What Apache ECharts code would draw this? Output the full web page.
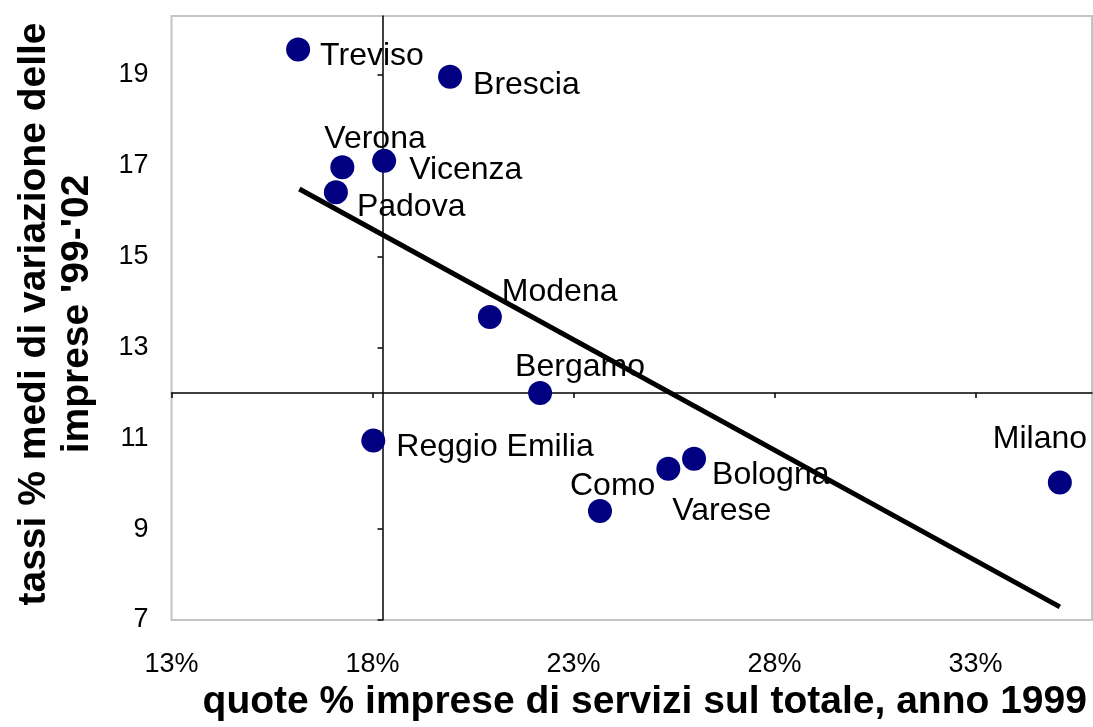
<!DOCTYPE html>
<html>
<head>
<meta charset="utf-8">
<script src="https://cdn.jsdelivr.net/npm/echarts@6/dist/echarts.min.js"></script>
<style>
  html, body { margin: 0; padding: 0; background: #fff; }
  #chart { width: 1093px; height: 727px; }
</style>
</head>
<body>
<div id="chart"></div>
<script>
// dati
const cities = ['Treviso', 'Brescia', 'Verona', 'Vicenza', 'Padova', 'Modena', 'Bergamo', 'Reggio Emilia', 'Como', 'Varese', 'Bologna', 'Milano']
const quotaServizi = [16.15, 19.93, 17.25, 18.29, 17.09, 20.92, 22.17, 18.02, 23.66, 25.36, 26.0, 35.1]
const tassoVariazione = [19.56, 18.96, 16.97, 17.11, 16.42, 13.67, 12.0, 10.95, 9.4, 10.33, 10.55, 10.03]
const trendX = [16.18, 35.1]
const trendY = [16.49, 7.29]
const xTicks = [13, 18, 23, 28, 33]
const yTicks = [7, 9, 11, 13, 15, 17, 19]

const X_MIN = 13
const X_MAX = 35.9
const Y_MIN = 7
const Y_MAX = 20.3
const X_CROSS = 18.25 // dove l'asse verticale incrocia
const Y_CROSS = 12

// spostamento etichette rispetto al centro del punto
const labelShift = {
  Treviso: [22, 7],
  Brescia: [23, 8],
  Verona: [-18, -28],
  Vicenza: [25, 9],
  Padova: [21, 15],
  Modena: [12, -25],
  Bergamo: [-25, -26],
  'Reggio Emilia': [23, 7],
  Como: [-30, -25],
  Varese: [4, 42],
  Bologna: [18, 16],
  Milano: [-67, -43]
}

const font = '"Liberation Sans", Arial, sans-serif'

const points = cities.map((name, i) => ({
  name,
  value: [quotaServizi[i], tassoVariazione[i]],
  label: { offset: labelShift[name] }
}))

const trend = trendX.map((x, i) => [x, trendY[i]])

const crossLine = { show: true, onZero: true, lineStyle: { color: '#000', width: 1.5 } }
const noSplit = { show: false }

const option = {
  animation: false,
  backgroundColor: '#fff',
  grid: {
    left: 171.5,
    right: 1,
    top: 16,
    bottom: 106,
    show: true,
    borderColor: '#c4c4c4',
    borderWidth: 2,
    containLabel: false
  },
  xAxis: [
    {
      type: 'value', position: 'bottom', min: X_MIN, max: X_MAX,
      axisLine: { show: false, onZero: false },
      axisTick: { show: false },
      splitLine: noSplit,
      axisLabel: {
        customValues: xTicks, formatter: '{value}%', margin: 31,
        fontFamily: font, fontSize: 27, color: '#000'
      },
      name: 'quote % imprese di servizi sul totale, anno 1999',
      nameLocation: 'middle',
      nameGap: 63,
      nameTextStyle: { fontFamily: font, fontSize: 39, fontWeight: 'bold', color: '#000', padding: [0, 0, 0, 26] }
    },
    {
      // asse orizzontale che passa per y = 12
      type: 'value', position: 'bottom', min: X_MIN, max: X_MAX,
      axisLine: Object.assign({ onZeroAxisIndex: 1 }, crossLine),
      axisTick: { show: true, customValues: xTicks, length: 5, lineStyle: { color: '#000', width: 1.5 } },
      axisLabel: { show: false },
      splitLine: noSplit
    },
    {
      type: 'value', position: 'top', show: false,
      min: X_MIN - X_CROSS, max: X_MAX - X_CROSS,
      axisLine: { onZero: false },
      splitLine: noSplit
    }
  ],
  yAxis: [
    {
      type: 'value', position: 'left', min: Y_MIN, max: Y_MAX,
      axisLine: { show: false, onZero: false },
      axisTick: { show: false },
      splitLine: noSplit,
      axisLabel: {
        customValues: yTicks, margin: 23,
        fontFamily: font, fontSize: 27, color: '#000'
      },
      name: "tassi % medi di variazione delle\nimprese '99-'02",
      nameLocation: 'middle',
      nameRotate: 90,
      nameGap: 73,
      nameTextStyle: { fontFamily: font, fontSize: 39, fontWeight: 'bold', color: '#000', lineHeight: 43, padding: [0, 0, 0, 8] }
    },
    {
      type: 'value', position: 'right', show: false,
      min: Y_MIN - Y_CROSS, max: Y_MAX - Y_CROSS,
      axisLine: { onZero: false },
      splitLine: noSplit
    },
    {
      // asse verticale che passa per x = 18,25%
      type: 'value', position: 'left', min: Y_MIN, max: Y_MAX,
      axisLine: Object.assign({ onZeroAxisIndex: 2 }, crossLine),
      axisTick: { show: true, customValues: yTicks, length: 5, lineStyle: { color: '#000', width: 1.5 } },
      axisLabel: { show: false },
      splitLine: noSplit
    }
  ],
  series: [
    {
      type: 'scatter',
      xAxisIndex: 0,
      yAxisIndex: 0,
      z: 3,
      symbol: 'circle',
      symbolSize: 24,
      itemStyle: { color: '#000080', opacity: 1 },
      label: {
        show: true,
        formatter: '{b}',
        position: [12, 12],
        align: 'left',
        verticalAlign: 'middle',
        fontFamily: font,
        fontSize: 32,
        color: '#000',
        opacity: 1
      },
      emphasis: { disabled: true },
      data: points
    },
    {
      type: 'line',
      xAxisIndex: 0,
      yAxisIndex: 0,
      z: 5,
      symbol: 'none',
      lineStyle: { color: '#000', width: 5 },
      emphasis: { disabled: true },
      data: trend
    }
  ]
}

const chart = echarts.init(document.getElementById('chart'), null, { renderer: 'canvas' })
chart.setOption(option)
</script>
</body>
</html>
